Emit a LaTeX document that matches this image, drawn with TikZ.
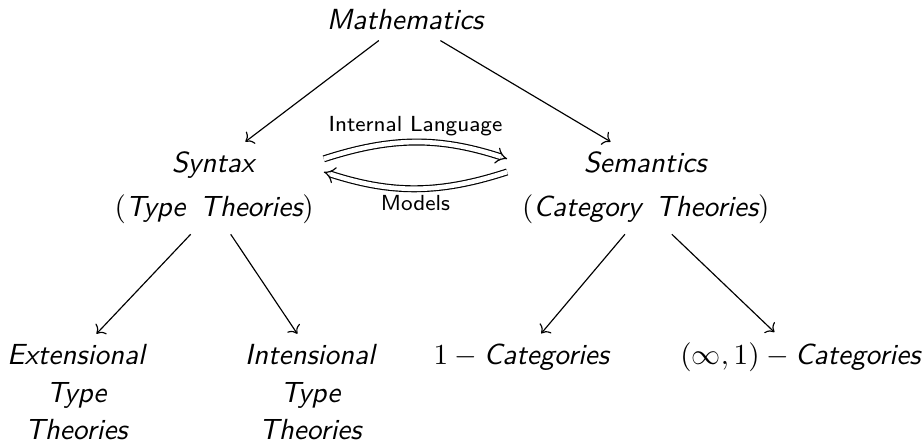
\documentclass[tikz,border=0pt]{standalone}
\usepackage{amsmath,amssymb}
\usetikzlibrary{arrows.meta,positioning}

\begin{document}
\begin{tikzpicture}[
        x=1pt, y=1pt,
        every node/.style={font=\sffamily, align=center},
        term/.style={anchor=base, inner sep=3.33pt},
        arr/.style={draw, -{To}},
        dblarr/.style={double, double distance=1.6pt, -{Implies}},
        lbl/.style={font=\sffamily\fontsize{7.5}{9}\selectfont, inner sep=2pt}
      ]
      \useasboundingbox (0,0) rectangle (317.6,-152.6);
      \node[term] (math) at (139.5,-10.3) {\textit{Mathematics}};
      \node[term] (syntax) at (73.6,-59.4) {\textit{Syntax}};
      \node[term, below=15.1pt of syntax.base, anchor=base] (types) {$(\textit{Type}\hspace{5pt}\textit{Theories})$};
      \node[term] (semantics) at (222,-59.4) {\textit{Semantics}};
      \node[term, below=15.1pt of semantics.base, anchor=base] (cats) {$(\textit{Category}\hspace{5pt}\textit{Theories})$};
      \node[term] (ext) at (26.5,-125.2) {\textit{Extensional}};
      \node[term, below=13pt of ext.base, anchor=base] (ext2) {\textit{Type}};
      \node[term, below=13pt of ext2.base, anchor=base] (ext3) {\textit{Theories}};
      \node[term] (int) at (106.9,-125.2) {\textit{Intensional}};
      \node[term, below=13pt of int.base, anchor=base] (int2) {\textit{Type}};
      \node[term, below=13pt of int2.base, anchor=base] (int3) {\textit{Theories}};
      \node[term] (onecat) at (179.2,-125.2) {$1-\textit{Categories}$};
      \node[term] (infcat) at (275.1,-125.2) {$(\infty,1)-\textit{Categories}$};

      \draw[arr] (math) -- (syntax);
      \draw[arr] (math) -- (semantics);
      \draw[arr] (types) -- (ext);
      \draw[arr] (types) -- (int);
      \draw[arr] (cats) -- (onecat);
      \draw[arr] (cats) -- (infcat);
      \draw[dblarr] ([xshift=19.6pt,yshift=4.8pt]syntax.base east) to[bend left=18]
        node[lbl, above] (intlang) {Internal Language} ([xshift=-22.8pt,yshift=4.8pt]semantics.base west);
      \draw[dblarr] ([xshift=-22.8pt,yshift=0.3pt]semantics.base west) to[bend left=18]
        node[lbl, below] (models) {Models} ([xshift=19.6pt,yshift=0.3pt]syntax.base east);
    \end{tikzpicture}
\end{document}
